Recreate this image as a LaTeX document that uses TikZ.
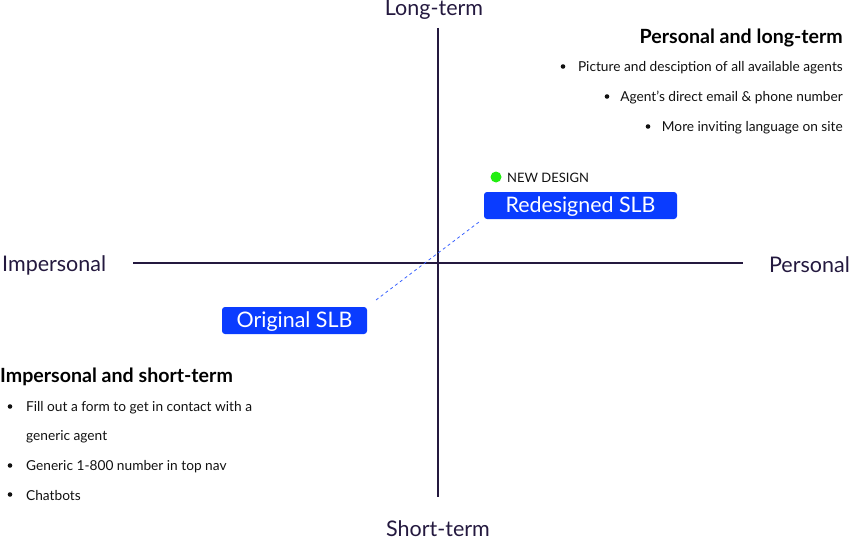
\documentclass[tikz,border=0pt]{standalone}
\usepackage{fontspec}
\setmainfont{Lato}
\definecolor{axis}{HTML}{24193F}
\definecolor{slb}{HTML}{0A3CFF}
\definecolor{dot}{HTML}{22EE11}
\definecolor{txt}{HTML}{111111}
\begin{document}
\begin{tikzpicture}[x=1pt,y=-1pt,
  axisline/.style={draw=axis,line width=2.4pt},
  axislabel/.style={font=\fontsize{21.5}{24}\selectfont,text=axis,inner sep=0pt},
  heading/.style={font=\fontsize{19.6}{22}\selectfont\bfseries,text=black,inner sep=0pt},
  item/.style={font=\fontsize{13.7}{16}\selectfont,text=txt,inner sep=0pt},
  bul/.style={circle,fill=txt,inner sep=0pt,minimum size=4.6pt},
  slbbox/.style={fill=slb,rounded corners=3pt,text=white,font=\fontsize{21.4}{24}\selectfont,inner sep=0pt,text height=15.5pt,text depth=1.5pt},
  link/.style={draw=slb!80,dashed,line width=0.8pt}]
\useasboundingbox (0,0) rectangle (850,540);
% axes
\coordinate (vt) at (438,28);
\coordinate (vb) at (438,497);
\coordinate (hl) at (133,263);
\coordinate (hr) at (743,263);
\draw[axisline] (vt) -- (vb);
\draw[axisline] (hl) -- (hr);
% axis labels
\node[axislabel] (lt) at (434,10) {Long-term};
\node[axislabel] (st) at (438,528.5) {Short-term};
\node[axislabel,anchor=west] (imp) at (2,265) {Impersonal};
\node[axislabel,anchor=east] (per) at (850,265) {Personal};
% top right quadrant text
\node[heading,anchor=east] (h1) at (843,37.5) {Personal and long-term};
\node[item,anchor=east] (a1) at (843,67.5) {Picture and desciption of all available agents};
\node[item,anchor=east] (a2) at (843,97.5) {Agent’s direct email \& phone number};
\node[item,anchor=east] (a3) at (843,127.5) {More inviting language on site};
\node[bul] (b1) at (563,66.5) {};
\node[bul] (b2) at (607,96.5) {};
\node[bul] (b3) at (648,126.5) {};
% bottom left quadrant text
\node[heading,anchor=west] (h2) at (0,376.5) {Impersonal and short-term};
\node[item,anchor=west] (c1) at (26,407.5) {Fill out a form to get in contact with a};
\node[item,anchor=west] (c1b) at (26,436.5) {generic agent};
\node[item,anchor=west] (c2) at (26,466.5) {Generic 1-800 number in top nav};
\node[item,anchor=west] (c3) at (26,495.5) {Chatbots};
\node[bul] (d1) at (10,406.5) {};
\node[bul] (d2) at (10,465.5) {};
\node[bul] (d3) at (10,494.5) {};
% new design marker
\node[circle,fill=dot,inner sep=0pt,minimum size=11pt] (nd) at (496,177) {};
\node[item,anchor=west,font=\fontsize{13}{16}\selectfont] (ndt) at (507,178) {NEW DESIGN};
% boxes
\node[slbbox,minimum width=193pt,minimum height=27pt] (red) at (580.5,205.5) {Redesigned SLB};
\node[slbbox,minimum width=145pt,minimum height=27pt] (orig) at (294.5,320.5) {Original SLB};
\coordinate (l1) at (376,300);
\coordinate (l2) at (479,222);
\draw[link] (l1) -- (l2);
\end{tikzpicture}
\end{document}
